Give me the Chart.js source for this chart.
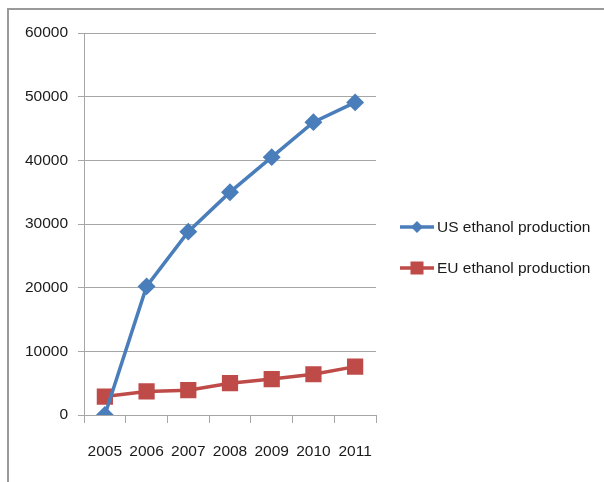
<!DOCTYPE html>
<html>
<head>
<meta charset="utf-8">
<script src="https://cdn.jsdelivr.net/npm/chart.js@4"></script>
<style>
  html, body { margin: 0; padding: 0; background: #ffffff; }
  #wrap { width: 604px; height: 482px; }
</style>
</head>
<body>
<div id="wrap"><canvas id="c" width="604" height="482"></canvas></div>
<script>
// Ethanol production by year
const years = ['2005', '2006', '2007', '2008', '2009', '2010', '2011'];
const usProduction = [0, 20200, 28800, 35000, 40500, 46000, 49100];
const euProduction = [2900, 3700, 3900, 5000, 5650, 6400, 7600];
const yTicks = [0, 10000, 20000, 30000, 40000, 50000, 60000];

const FONT = "'Liberation Sans', Arial, sans-serif";
const FONT_SIZE = 15.5;
const BLUE = '#4a7ebb';
const RED = '#be4b48';
const GRID = '#a6a6a6';

// Outer frame around the chart
const framePlugin = {
  id: 'frame',
  beforeDraw(chart) {
    const ctx = chart.ctx;
    ctx.save();
    ctx.fillStyle = '#ffffff';
    ctx.fillRect(0, 0, chart.width, chart.height);
    ctx.strokeStyle = '#9a9a9a';
    ctx.lineWidth = 2;
    ctx.beginPath();
    ctx.moveTo(8, chart.height);
    ctx.lineTo(8, 9);
    ctx.lineTo(chart.width, 9);
    ctx.stroke();
    ctx.restore();
  }
};

// Legend with a line segment and marker per series
const sideLegend = {
  id: 'sideLegend',
  afterDraw(chart) {
    const ctx = chart.ctx;
    const rows = [227, 268];
    ctx.save();
    chart.data.datasets.forEach((ds, i) => {
      const y = rows[i];
      ctx.strokeStyle = ds.borderColor;
      ctx.lineWidth = 3.5;
      ctx.beginPath();
      ctx.moveTo(400, y);
      ctx.lineTo(434, y);
      ctx.stroke();
      ctx.fillStyle = ds.backgroundColor;
      ctx.beginPath();
      if (ds.pointStyle === 'rectRot') {
        const r = 6;
        ctx.moveTo(417 - r, y);
        ctx.lineTo(417, y - r);
        ctx.lineTo(417 + r, y);
        ctx.lineTo(417, y + r);
        ctx.closePath();
      } else {
        ctx.rect(417 - 6.5, y - 6.5, 13, 13);
      }
      ctx.fill();
      ctx.fillStyle = '#1a1a1a';
      ctx.font = FONT_SIZE + 'px ' + FONT;
      ctx.textBaseline = 'middle';
      ctx.textAlign = 'left';
      ctx.fillText(ds.label, 437, y + 1);
    });
    ctx.restore();
  }
};

new Chart(document.getElementById('c'), {
  type: 'line',
  data: {
    labels: years,
    datasets: [
      {
        label: 'US ethanol production',
        data: usProduction,
        borderColor: BLUE,
        backgroundColor: BLUE,
        borderWidth: 3.5,
        pointStyle: 'rectRot',
        pointRadius: 6.5,
        pointHoverRadius: 6.5,
        tension: 0
      },
      {
        label: 'EU ethanol production',
        data: euProduction,
        borderColor: RED,
        backgroundColor: RED,
        borderWidth: 3.5,
        pointStyle: 'rect',
        pointRadius: 9,
        pointHoverRadius: 9,
        tension: 0
      }
    ]
  },
  options: {
    responsive: false,
    animation: false,
    layout: { padding: { left: 0, right: 228, top: 33, bottom: 0 } },
    plugins: {
      legend: { display: false },
      tooltip: { enabled: false }
    },
    scales: {
      x: {
        offset: true,
        grid: {
          offset: true,
          drawOnChartArea: false,
          drawTicks: true,
          tickLength: 8,
          color: GRID
        },
        border: { color: GRID, width: 1 },
        ticks: {
          color: '#1a1a1a',
          font: { family: FONT, size: FONT_SIZE },
          padding: 19,
          maxRotation: 0,
          autoSkip: false
        },
        afterFit(scale) { scale.height = 67; }
      },
      y: {
        min: 0,
        max: 60000,
        afterBuildTicks(scale) { scale.ticks = yTicks.map(v => ({ value: v })); },
        grid: {
          color: GRID,
          tickLength: 6,
          drawTicks: true
        },
        border: { color: GRID, width: 1 },
        ticks: {
          color: '#1a1a1a',
          font: { family: FONT, size: FONT_SIZE },
          padding: 10,
          callback: v => String(v)
        },
        afterFit(scale) { scale.width = 84; }
      }
    }
  },
  plugins: [framePlugin, sideLegend]
});
</script>
</body>
</html>
